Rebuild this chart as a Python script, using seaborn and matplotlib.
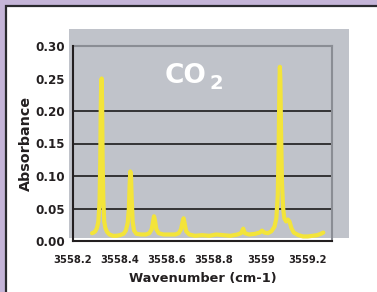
import numpy as np
import matplotlib
matplotlib.use("Agg")
import matplotlib.pyplot as plt
from matplotlib.patches import Rectangle
import seaborn as sb

# spectrum
wavenumber = [
    3558.281, 3558.288, 3558.295, 3558.302, 3558.308, 3558.313, 3558.316,
    3558.318, 3558.320, 3558.322, 3558.324, 3558.326, 3558.329, 3558.333,
    3558.338, 3558.345, 3558.355, 3558.370, 3558.385, 3558.400, 3558.415,
    3558.425, 3558.433, 3558.438, 3558.441, 3558.444, 3558.447, 3558.450,
    3558.454, 3558.460, 3558.470, 3558.490, 3558.510, 3558.525, 3558.535,
    3558.541, 3558.545, 3558.549, 3558.555, 3558.565, 3558.585, 3558.610,
    3558.635, 3558.650, 3558.660, 3558.667, 3558.671, 3558.675, 3558.682,
    3558.695, 3558.720, 3558.750, 3558.780, 3558.810, 3558.840, 3558.870,
    3558.900, 3558.915, 3558.925, 3558.932, 3558.950, 3558.975, 3558.995,
    3559.005, 3559.015, 3559.030, 3559.045, 3559.058, 3559.066, 3559.072,
    3559.076, 3559.079, 3559.081, 3559.083, 3559.086, 3559.090, 3559.095,
    3559.100, 3559.108, 3559.115, 3559.122, 3559.130, 3559.140, 3559.160,
    3559.180, 3559.200, 3559.220, 3559.240, 3559.255, 3559.266,
]
absorbance = [
    0.012, 0.013, 0.015, 0.020, 0.030, 0.060, 0.120,
    0.200, 0.245, 0.250, 0.210, 0.130, 0.065, 0.030,
    0.020, 0.014, 0.010, 0.008, 0.008, 0.009, 0.011,
    0.016, 0.028, 0.050, 0.085, 0.107, 0.100, 0.065,
    0.030, 0.016, 0.011, 0.010, 0.010, 0.012, 0.018,
    0.030, 0.038, 0.032, 0.018, 0.012, 0.010, 0.010,
    0.010, 0.012, 0.018, 0.030, 0.035, 0.028, 0.015,
    0.010, 0.008, 0.009, 0.008, 0.010, 0.009, 0.008,
    0.010, 0.012, 0.019, 0.012, 0.010, 0.011, 0.013,
    0.016, 0.013, 0.012, 0.015, 0.022, 0.035, 0.070,
    0.150, 0.240, 0.268, 0.250, 0.170, 0.090, 0.050,
    0.035, 0.030, 0.033, 0.030, 0.020, 0.013, 0.009,
    0.007, 0.007, 0.008, 0.009, 0.011, 0.013,
]
x_ticks = [3558.2, 3558.4, 3558.6, 3558.8, 3559.0, 3559.2]
x_labels = ["3558.2", "3558.4", "3558.6", "3558.8", "3559", "3559.2"]
y_ticks = [0.00, 0.05, 0.10, 0.15, 0.20, 0.25, 0.30]
y_labels = ["0.00", "0.05", "0.10", "0.15", "0.20", "0.25", "0.30"]

sb.set_style("white")
plt.rcParams["font.family"] = ["DejaVu Sans"]

W, H = 377, 292
fig = plt.figure(figsize=(W / 100, H / 100), dpi=100)
fig.patch.set_facecolor("#c5b5d8")

# white panel with dark frame
fig.patches.append(Rectangle((6 / W, -0.1), 1.2, (H - 6) / H + 0.1,
                             transform=fig.transFigure, facecolor="white",
                             edgecolor="#2a2a2e", lw=1.6, zorder=0))
# grey plot background
fig.patches.append(Rectangle((69 / W, (H - 238) / H), 280 / W, 209 / H,
                             transform=fig.transFigure, facecolor="#c0c3ca",
                             edgecolor="none", zorder=1))

ax = fig.add_axes([73 / W, (H - 241) / H, 259 / W, 195 / H])
ax.set_zorder(2)
ax.set_facecolor("none")

sb.lineplot(x=wavenumber, y=absorbance, ax=ax, color="#1e2a8a", lw=0.8, zorder=3)
sb.lineplot(x=wavenumber, y=absorbance, ax=ax, color="#f3e43a", lw=3.0, zorder=4)

ax.set_xlim(3558.2, 3559.303)
ax.set_ylim(0, 0.30)
ax.set_xticks(x_ticks)
ax.set_xticklabels(x_labels, fontsize=7.2, fontweight="bold", color="#231f20")
ax.set_yticks(y_ticks)
ax.set_yticklabels(y_labels, fontsize=8.6, fontweight="bold", color="#231f20")
ax.tick_params(axis="both", direction="out", length=4, width=1.2, color="#231f20")
ax.tick_params(axis="x", pad=6)
ax.tick_params(axis="y", pad=1.5)

ax.grid(axis="y", color="#1c1c1c", lw=1.2)
ax.grid(axis="x", visible=False)
gl = ax.yaxis.get_gridlines()
gl[0].set_visible(False)
gl[5].set_visible(False)
gl[6].set_visible(False)

for s in ["left", "bottom"]:
    ax.spines[s].set_color("#231f20")
    ax.spines[s].set_linewidth(1.5)
for s in ["top", "right"]:
    ax.spines[s].set_color("#8a8d94")
    ax.spines[s].set_linewidth(1.5)
ax.spines["left"].set_zorder(6)
ax.spines["bottom"].set_zorder(6)

ax.set_xlabel("Wavenumber (cm-1)", fontsize=9.3, fontweight="bold",
              color="#231f20", labelpad=5)
ax.set_ylabel("Absorbance", fontsize=10.3, fontweight="bold", color="#231f20",
              labelpad=2)

fig.text(186 / W, (H - 83) / H, "CO", fontsize=19, fontweight="bold",
         color="white", ha="center", va="baseline", zorder=3)
fig.text(216 / W, (H - 89) / H, "2", fontsize=14, fontweight="bold",
         color="white", ha="center", va="baseline", zorder=3)

fig.savefig("out.png", dpi=100, facecolor=fig.get_facecolor())
